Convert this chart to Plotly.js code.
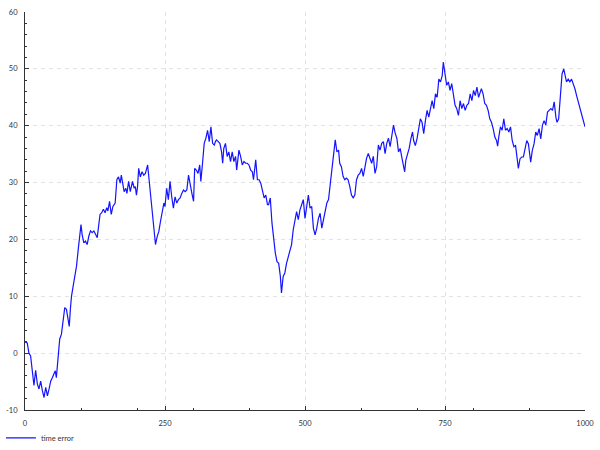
<!DOCTYPE html>
<html>
<head>
<meta charset="utf-8">
<script src="https://cdn.plot.ly/plotly-3.0.1.min.js"></script>
<style>html,body{margin:0;padding:0;background:#fff}#chart{width:600px;height:450px}</style>
</head>
<body>
<div id="chart"></div>
<script>
const seriesName = "time error";
const xTickVals = [0, 250, 500, 750, 1000];
const yTickVals = [-10, 0, 10, 20, 30, 40, 50, 60];

const time = [
0,1,4,7,10,13,16,19,22,25,28,31,34,37,40,43,46,49,52,54,56,59,62,65,68,71,74,77,79,81,83,86,89,92,95,98,100,102,105,108,111,114,117,120,123,126,129,131,134,137,140,143,146,148,151,154,157,
161,164,167,170,172,174,177,180,182,185,188,192,195,197,199,201,203,206,209,212,215,219,222,225,228,231,233,236,239,242,245,248,250,253,256,259,262,265,268,271,274,277,280,283,286,289,292,295,298,301,303,306,309,312,314,317,320,323,326,329,
332,335,338,340,342,345,348,351,353,355,358,361,364,367,370,373,376,378,381,382,385,388,391,394,397,400,403,406,408,411,412,415,418,421,424,427,430,433,435,438,441,444,447,450,453,456,458,461,464,467,470,473,476,479,482,485,488,491,494,497,500,
503,506,509,512,515,518,521,524,527,530,533,536,539,542,545,548,551,554,557,560,562,565,568,571,574,577,580,583,586,589,592,595,598,601,604,607,610,613,616,619,622,625,628,631,634,637,640,643,646,649,652,655,658,661,664,667,
670,673,676,678,680,683,686,689,692,694,697,700,703,706,709,712,715,718,721,724,727,730,733,736,739,742,745,747,749,753,756,759,762,765,768,771,774,777,780,783,786,789,792,795,798,801,804,807,810,813,815,818,821,824,827,830,833,836,839,842,
844,846,849,852,855,858,861,864,867,870,873,876,878,881,884,887,890,893,896,899,902,903,906,909,912,915,918,921,924,927,930,933,936,939,942,945,948,950,953,956,959,962,964,967,970,973,976,979,982,985,988,991,994,997,1000
];

const timeError = [
2,1.9,1.8,0,-0.5,-2.8,-5.7,-3,-5.4,-6.3,-4.9,-6.6,-7.8,-6,-7.5,-6.3,-4.9,-4.3,-3.4,-3.1,-4.3,-0.5,2.5,3.3,6,8,7.7,6,4.7,7.7,10,11.8,13.3,15.3,18.2,20.6,22.6,20.9,19.4,19.7,19.1,20.6,21.5,21.2,21.5,20.9,20.3,22,24.4,24.7,25.3,24.7,25.6,25,26.7,24.4,25.8,
26.4,30.5,31,29.9,31.3,30.2,28.4,29,28.1,30.2,28.4,30.2,29,29.3,27.8,29.3,32.5,31,31.9,31.3,31.6,33.1,29.9,27,23.5,20.2,19.1,20.5,21.4,23.2,25.2,26.4,25.8,29,27,30.2,27.5,25.5,27.5,26.4,27,27.3,28.1,28.7,28.4,28.7,31.3,29.3,28.1,26.7,32.5,32.2,31.6,33.1,30.2,33.4,36.9,37.8,39.2,37.2,
39.8,36.9,36.6,37.2,37.5,37.2,36.9,35.4,33.4,36,36.9,34.6,35.4,33.7,35.4,33.7,34.6,32.2,34.6,35.7,34.6,33.1,33.7,33.4,33.4,33.1,32.2,31.9,30.5,33.1,34,30.5,30.5,29.9,28.7,27.3,27.8,26.1,26.1,27.3,22.9,19.9,17.6,16.1,15.8,13.5,10.6,13.5,14.1,15.8,17,18.2,19.1,21.7,23.5,24.9,23.5,25.2,26.1,27,23.7,
25.8,27.8,25.5,25.8,22,20.8,22,23.7,24.6,22,23.5,25.2,26.4,27,29.9,31.9,35.1,37.5,35.4,35.7,33.4,32.8,31.1,30.5,30.8,30.5,29.3,27.8,27.3,27.8,30.5,31.3,31.6,32.5,31.1,32.8,34.3,35.1,34,33.4,34.6,31.6,32.8,36.6,35.7,36.9,37.2,35.1,36.9,37.8,36.3,38.4,40.1,38.7,37.8,35.4,
36,34.4,33,31.9,33.9,34.8,36,37.7,38.9,37.4,36.5,37.7,39.2,41.2,40.6,38.6,40.9,42.7,41.5,43.3,44.4,43,45.6,45,48.2,47.7,48.8,51.2,49.7,47.1,47.7,46.2,47.4,45.3,43.6,43,41.8,44.4,43,43.9,42.7,43.6,43.9,45.6,44.4,46.2,45.3,46.8,45,45.9,46.5,45.6,43.9,43.6,42.7,41.2,40.6,39.5,38,37.4,
36.4,38,39.8,39.2,41.2,39.2,39.5,38.9,39.8,37.4,36.3,36.5,34.5,32.5,34.2,34.5,34.5,35.7,37.4,36.8,34.5,33.6,35.7,36.8,38.9,38.3,39.5,37.7,40.1,40.9,40.1,42.4,42.7,43,42.7,44.2,41.5,40.6,41.2,45.6,49.1,50,48.8,47.7,48.2,47.7,48.2,47.4,46.5,45.3,44.2,42.7,41.8,40.6,39.8
];

const fontFamily = "Lato, 'DejaVu Sans', sans-serif";
const axisColor = "#333333";

const trace = {
  x: time,
  y: timeError,
  type: "scatter",
  mode: "lines",
  name: seriesName,
  line: {color: "#1414ff", width: 1.2}
};

const commonAxis = {
  automargin: false,
  showline: true,
  linecolor: axisColor,
  linewidth: 1,
  ticks: "inside",
  ticklen: 4,
  tickwidth: 1,
  tickcolor: axisColor,
  showgrid: true,
  gridcolor: "#e2e2e2",
  griddash: "4px,4px",
  gridwidth: 1,
  zeroline: false,
  tickfont: {family: fontFamily, size: 7.5, color: "#333"}
};

const layout = {
  width: 600,
  height: 450,
  margin: {l: 25, r: 15, t: 12, b: 40, autoexpand: false},
  paper_bgcolor: "#ffffff",
  plot_bgcolor: "#ffffff",
  font: {family: fontFamily, size: 7.5, color: "#333"},
  xaxis: Object.assign({}, commonAxis, {
    range: [0, 1000],
    tickmode: "array",
    tickvals: xTickVals,
    ticktext: xTickVals.map(String),
    ticklabelstandoff: 6,
    minor: {dtick: 100, tick0: 0, ticks: "inside", ticklen: 2, tickcolor: axisColor, showgrid: false}
  }),
  yaxis: Object.assign({}, commonAxis, {
    range: [-10, 60],
    tickmode: "array",
    tickvals: yTickVals,
    ticktext: yTickVals.map(String),
    ticklabelstandoff: 5,
    minor: {dtick: 2, tick0: 0, ticks: "inside", ticklen: 2, tickcolor: axisColor, showgrid: false}
  }),
  showlegend: true,
  legend: {
    orientation: "h",
    x: -0.043,
    xanchor: "left",
    y: -0.07,
    yanchor: "middle",
    itemwidth: 30,
    bgcolor: "rgba(0,0,0,0)",
    font: {family: fontFamily, size: 7.5, color: "#333"}
  }
};

Plotly.newPlot("chart", [trace], layout, {displayModeBar: false, staticPlot: true});
</script>
</body>
</html>
